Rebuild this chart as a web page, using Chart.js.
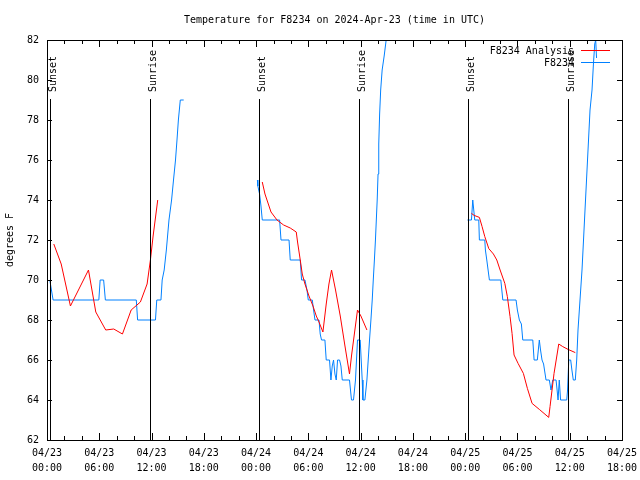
<!DOCTYPE html>
<html><head><meta charset="utf-8">
<script src="https://cdn.jsdelivr.net/npm/chart.js@4/dist/chart.umd.min.js"></script>
<style>html,body{margin:0;padding:0;background:#fff;}</style>
</head><body>
<canvas id="c" width="640" height="480"></canvas>
<script>
// ---- data (hours since 2024-04-23 00:00 UTC, degrees F) ----
const titleText = "Temperature for F8234 on 2024-Apr-23 (time in UTC)";
const yAxisTitle = "degrees F";
const xTickDates = ["04/23","04/23","04/23","04/23","04/24","04/24","04/24","04/24","04/25","04/25","04/25","04/25"];
const xTickTimes = ["00:00","06:00","12:00","18:00","00:00","06:00","12:00","18:00","00:00","06:00","12:00","18:00"];
const yTickValues = [62,64,66,68,70,72,74,76,78,80,82];
const sunEventHours = [0.30, 11.78, 24.29, 35.77, 48.28, 59.76];
const sunEventLabels = ["Sunset","Sunrise","Sunset","Sunrise","Sunset","Sunrise"];
const seriesNames = ["F8234 Analysis","F8234"];

const analysisSeries = [
  [0.78,71.8],[1.63,70.8],[2.69,68.7],[4.76,70.5],[5.60,68.4],[6.74,67.5],[7.66,67.55],[8.66,67.3],
  [9.66,68.5],[10.72,68.9],[11.49,69.8],[11.87,71.0],[12.18,72.2],[12.71,74.0],
  [20,null],
  [24.71,74.9],[25.02,74.3],[25.48,73.7],[25.71,73.4],[26.40,73.0],[27.16,72.75],[27.92,72.6],[28.61,72.4],
  [28.76,71.9],[29.07,71.0],[29.30,70.3],[29.61,69.8],[30.07,69.2],[30.53,68.7],[30.91,68.2],[31.22,67.9],
  [31.67,67.4],[32.05,68.8],[32.36,69.8],[32.66,70.5],[33.12,69.5],[33.66,68.2],[34.20,66.7],[34.72,65.3],
  [34.95,66.2],[35.34,67.5],[35.64,68.5],[36.03,68.2],[36.72,67.5],
  [42,null],
  [48.72,73.33],[49.03,73.23],[49.63,73.13],[49.94,72.67],[50.25,72.17],[50.71,71.57],[51.24,71.3],[51.63,71.0],
  [52.01,70.5],[52.55,69.83],[52.84,69.17],[53.15,68.17],[53.38,67.33],[53.61,66.25],[54.07,65.83],[54.68,65.33],
  [55.14,64.58],[55.68,63.83],[56.51,63.53],[57.59,63.13],[57.74,63.67],[58.20,65.33],[58.74,66.8],[59.20,66.67],
  [59.81,66.53],[60.64,66.37]
];

const obsSeries = [
  [0.32,70],[0.70,69],[5.95,69],[6.10,70],[6.50,70],[6.70,69],[10.25,69],[10.40,68],[12.45,68],[12.60,69],
  [13.08,69],[13.22,70],[13.45,70.5],[13.70,71.5],[14.00,73],[14.30,74],[14.52,75],[14.75,76],[14.92,77],
  [15.08,78],[15.30,79],[15.69,79],
  [20,null],
  [24.15,75],[24.20,74.7],[24.40,74.3],[24.56,73.7],[24.71,73],[26.70,73],[26.86,72],[27.78,72],[27.92,71],
  [29.07,71],[29.22,70],[29.61,70],[29.84,69.5],[29.99,69],[30.45,69],[30.60,68.5],[30.76,68],[31.22,68],
  [31.36,67.3],[31.51,67],[31.90,67],[32.05,66],[32.43,66],[32.59,65],[32.74,65.7],[32.89,66],[33.05,65.3],
  [33.20,65],[33.35,66],[33.58,66],[33.74,65.7],[33.89,65],[34.72,65],[34.95,64],[35.18,64],[35.41,65],
  [35.64,67],[35.95,67],[36.18,65],[36.26,64],[36.49,64],[36.72,65],[36.87,66],[37.02,67],[37.18,68],
  [37.33,69],[37.45,70],[37.58,71],[37.70,72],[37.80,73],[37.90,74],[38.00,75.3],[38.08,76.8],[38.18,78.3],
  [38.30,79.5],[38.47,80.5],[38.70,81.2],[38.93,82],[39.30,84],
  [42,null],
  [48.26,73],[48.72,73],[48.87,74],[49.10,73],[49.56,73],[49.63,72],[50.25,72],[50.32,71.5],[50.48,71],
  [50.78,70],[52.09,70],[52.32,69],[53.84,69],[53.99,68.5],[54.22,68],[54.45,67.8],[54.61,67],[55.76,67],
  [55.91,66],[56.28,66],[56.51,67],[56.65,66.5],[56.82,66],[57.00,65.8],[57.28,65],[57.66,65],[57.85,64.5],
  [58.05,65],[58.43,65],[58.55,64.5],[58.66,64],[58.80,65],[58.95,64],[59.66,64],[59.75,64.5],[59.89,66],
  [60.11,66],[60.25,65.5],[60.41,65],[60.64,65],[60.80,66],[60.95,67.5],[61.18,69],[61.41,70.5],[61.56,71.8],
  [61.72,73.2],[61.87,74.5],[62.02,75.8],[62.18,77.2],[62.33,78.5],[62.56,79.5],[62.72,80.8],[62.87,81.8],
  [62.98,82],[63.08,81.1]
];

// ---- styling ----
const FONT = {family: "'DejaVu Sans Mono', 'Liberation Mono', monospace", size: 10, weight: 'normal', lineHeight: 1.5};
const RED = '#ff0000';
const BLUE = '#0080ff';

const toXY = s => s.map(p => ({x: p[0], y: p[1]}));

const framePlugin = {
  id: 'frame',
  afterLayout(chart) {
    // centre the title over the plotting area, as gnuplot does
    if (chart.titleBlock) {
      chart.titleBlock.left = chart.chartArea.left;
      chart.titleBlock.right = chart.chartArea.right;
    }
  },
  afterDatasetsDraw(chart) {
    const ctx = chart.ctx;
    const {left, right, top, bottom} = chart.chartArea;
    const xs = chart.scales.x, ys = chart.scales.y;
    ctx.save();
    ctx.strokeStyle = '#000';
    ctx.lineWidth = 1;
    ctx.fillStyle = '#000';
    ctx.font = "10px 'DejaVu Sans Mono', monospace";
    sunEventHours.forEach((h, i) => {
      const px = Math.round(xs.getPixelForValue(h)) + 0.5;
      ctx.beginPath();
      ctx.moveTo(px, top + 59);
      ctx.lineTo(px, bottom);
      ctx.stroke();
      ctx.save();
      ctx.translate(px + 5, top + 52);
      ctx.rotate(-Math.PI / 2);
      ctx.textAlign = 'left';
      ctx.textBaseline = 'alphabetic';
      ctx.fillText(sunEventLabels[i], 0, 0);
      ctx.restore();
    });
    ctx.strokeRect(Math.round(left) + 0.5, Math.round(top) + 0.5, Math.round(right - left), Math.round(bottom - top));
    for (let h = xs.min; h <= xs.max; h += 2) {
      const px = Math.round(xs.getPixelForValue(h)) + 0.5;
      const len = (h % 6 === 0) ? 7 : 4;
      ctx.beginPath();
      ctx.moveTo(px, bottom); ctx.lineTo(px, bottom - len);
      ctx.moveTo(px, top); ctx.lineTo(px, top + len);
      ctx.stroke();
    }
    yTickValues.forEach(v => {
      const py = Math.round(ys.getPixelForValue(v)) + 0.5;
      ctx.beginPath();
      ctx.moveTo(left, py); ctx.lineTo(left + 5, py);
      ctx.moveTo(right, py); ctx.lineTo(right - 5, py);
      ctx.stroke();
    });
    ctx.textAlign = 'right';
    ctx.textBaseline = 'middle';
    chart.data.datasets.forEach((ds, i) => {
      const y = Math.round(top + 9.5 + i * 12.5) + 0.5;
      ctx.fillStyle = '#000';
      ctx.fillText(ds.label, right - 48, y + 1);
      ctx.strokeStyle = ds.borderColor;
      ctx.beginPath();
      ctx.moveTo(right - 41, y); ctx.lineTo(right - 12, y);
      ctx.stroke();
    });
    ctx.restore();
  }
};

new Chart(document.getElementById('c'), {
  type: 'line',
  data: {
    datasets: [
      {label: seriesNames[0], data: toXY(analysisSeries), borderColor: RED, borderWidth: 1, pointRadius: 0, spanGaps: false, tension: 0},
      {label: seriesNames[1], data: toXY(obsSeries), borderColor: BLUE, borderWidth: 1, pointRadius: 0, spanGaps: false, tension: 0}
    ]
  },
  options: {
    responsive: false,
    animation: false,
    events: [],
    layout: {padding: 0},
    plugins: {
      legend: {display: false},
      tooltip: {enabled: false},
      title: {display: true, text: titleText, color: '#000', font: {family: FONT.family, size: 10, weight: 'normal', lineHeight: 1.2}, padding: {top: 14, bottom: 14}}
    },
    scales: {
      x: {
        type: 'linear', min: 0, max: 66,
        afterBuildTicks: s => { s.ticks = xTickDates.map((d, i) => ({value: i * 6})); },
        ticks: {callback: v => [xTickDates[Math.round(v / 6)], xTickTimes[Math.round(v / 6)]], color: '#000', font: FONT, padding: 6, maxRotation: 0, minRotation: 0, autoSkip: false},
        grid: {display: false, drawTicks: false},
        border: {display: false},
        afterFit: s => { s.height = 40; s.paddingLeft = 0; s.paddingRight = 18; }
      },
      y: {
        type: 'linear', min: 62, max: 82,
        afterBuildTicks: s => { s.ticks = yTickValues.map(v => ({value: v})); },
        ticks: {color: '#000', font: FONT, padding: 8},
        grid: {display: false, drawTicks: false},
        border: {display: false},
        title: {display: true, text: yAxisTitle, color: '#000', font: {family: FONT.family, size: 10, weight: 'normal', lineHeight: 1.2}, padding: {top: 4, bottom: 0}},
        afterFit: s => { s.width = 47; s.paddingTop = 0; s.paddingBottom = 0; }
      }
    }
  },
  plugins: [framePlugin]
});
</script>
</body></html>
